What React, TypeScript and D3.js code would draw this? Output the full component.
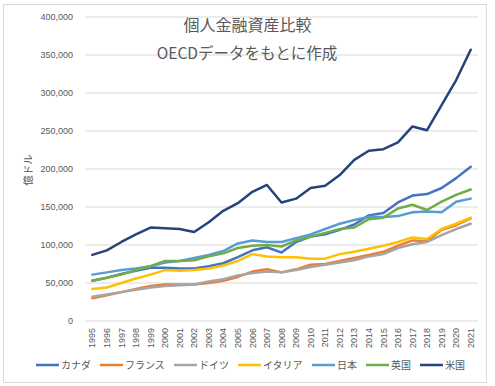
import React from 'react';
import * as d3 from 'd3';

// 億ドル
const years = d3.range(1995, 2022).map(String);
const names = ['カナダ', 'フランス', 'ドイツ', 'イタリア', '日本', '英国', '米国'];
const colors = ['#4472C4', '#ED7D31', '#A5A5A5', '#FFC000', '#5B9BD5', '#70AD47', '#264478'];

const canada = [53, 57, 62, 66, 70, 70, 69, 69, 72, 76, 84, 93, 97, 90, 104, 111, 114, 120, 127, 139, 142, 156, 165, 167, 175, 188, 203];
const france = [30, 34, 38, 42, 46, 48, 48, 48, 50, 53, 58, 65, 68, 64, 68, 74, 75, 79, 83, 87, 91, 99, 106, 105, 120, 126, 135];
const germany = [32, 35, 38, 41, 44, 46, 47, 48, 52, 55, 60, 63, 65, 64, 67, 71, 74, 77, 80, 85, 88, 96, 101, 104, 113, 121, 128];
const italy = [42, 44, 50, 56, 61, 67, 66, 67, 69, 73, 79, 88, 85, 84, 84, 82, 82, 88, 91, 95, 99, 104, 110, 108, 121, 128, 136];
const japan = [61, 64, 67, 69, 72, 77, 79, 83, 87, 92, 102, 106, 104, 104, 109, 114, 121, 128, 133, 137, 137, 138, 143, 144, 143, 157, 161];
const uk = [53, 57, 61, 67, 72, 79, 79, 80, 85, 89, 96, 99, 100, 98, 106, 111, 116, 121, 123, 134, 136, 148, 153, 146, 157, 166, 173];
const usa = [87, 93, 104, 114, 123, 122, 121, 117, 130, 145, 155, 170, 179, 156, 161, 175, 178, 192, 212, 224, 226, 235, 256, 251, 284, 317, 357];

const series = [canada, france, germany, italy, japan, uk, usa];
const yTicks = [0, 50000, 100000, 150000, 200000, 250000, 300000, 350000, 400000];

const W = 495, H = 386;
const textColor = '#595959';
const gridColor = '#d9d9d9';

export default function App() {
    const x = d3.scalePoint<string>().domain(years).range([85, 478]).padding(0.5);
    const y = d3.scaleLinear().domain([0, 400000]).range([321, 17]);
    const line = d3.line<number>()
        .x((d, i) => x(years[i]) as number)
        .y(d => y(d * 1000));
    const fmt = d3.format(',');

    // legend layout: line + label, one after another
    const legendFont = 10;
    let lx = 36;
    const legend = names.map((n, i) => {
        const item = { n, i, x: lx };
        lx += 26 + n.length * legendFont + 8;
        return item;
    });

    return (
        <svg width={W} height={H} style={{ position: 'absolute', left: 0, top: 0 }}
            fontFamily="'Noto Sans CJK JP', 'Noto Sans', sans-serif">
            <rect x={0} y={0} width={W} height={H} fill="#fff" />
            <rect x={3.5} y={4.5} width={483} height={378} fill="none" stroke={gridColor} />

            {/* grid */}
            {yTicks.map(t => (
                <g key={t}>
                    <line x1={85} x2={478} y1={y(t)} y2={y(t)} stroke={gridColor} strokeWidth={1} />
                    <text x={73} y={y(t)} dy="0.35em" textAnchor="end" fontSize={9}
                        fontFamily="'Liberation Sans', Arial, sans-serif" fill={textColor}>{fmt(t)}</text>
                </g>
            ))}

            {/* x labels */}
            {years.map(yr => (
                <text key={yr} transform={`translate(${x(yr)},328) rotate(-90)`} dy="0.35em"
                    textAnchor="end" fontSize={9} fontFamily="'Liberation Sans', Arial, sans-serif"
                    fill={textColor}>{yr}</text>
            ))}

            {/* lines */}
            {series.map((s, i) => (
                <path key={names[i]} d={line(s) as string} fill="none" stroke={colors[i]}
                    strokeWidth={2.5} strokeLinejoin="round" strokeLinecap="round" />
            ))}

            {/* titles */}
            <text x={247.5} y={31} textAnchor="middle" fontSize={16} fill={textColor}>個人金融資産比較</text>
            <text x={247} y={59} textAnchor="middle" fontSize={15.5} fill={textColor}>OECDデータをもとに作成</text>
            <text transform="translate(28,170) rotate(-90)" dy="0.35em" textAnchor="middle"
                fontSize={10.5} fill={textColor}>億ドル</text>

            {/* legend */}
            {legend.map(l => (
                <g key={l.n} transform={`translate(${l.x},365)`}>
                    <line x1={0} x2={23} y1={0} y2={0} stroke={colors[l.i]} strokeWidth={2.5} />
                    <text x={25} y={0} dy="0.35em" fontSize={legendFont} fill={textColor}>{l.n}</text>
                </g>
            ))}
        </svg>
    );
}
